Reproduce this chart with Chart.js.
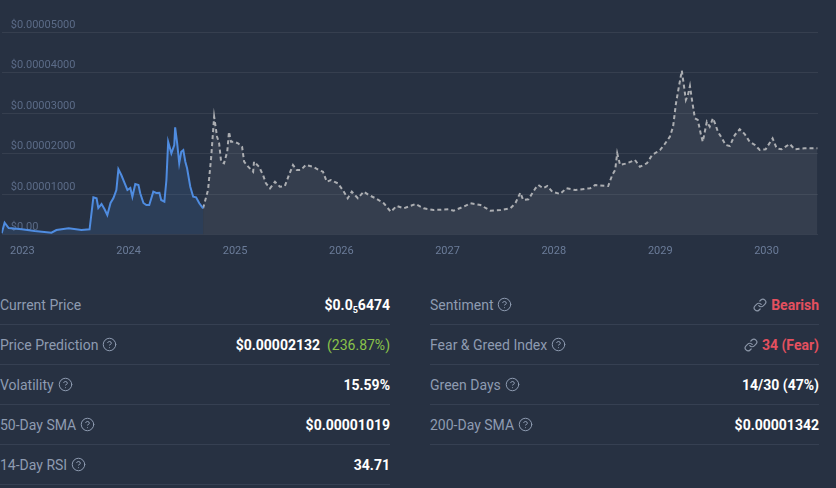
<!DOCTYPE html>
<html>
<head>
<meta charset="utf-8">
<script src="https://cdn.jsdelivr.net/npm/chart.js@4.4.1/dist/chart.umd.min.js"></script>
<style>
  body { margin: 0; background: #273142; font-family: Roboto, "Noto Sans", sans-serif; width: 836px; height: 488px; overflow: hidden; position: relative; }
  #chartBox { position: absolute; left: 0; top: 0; width: 836px; height: 262px; }
  .col { position: absolute; top: 285px; }
  .left { left: 0; width: 390px; }
  .right { left: 430px; width: 389px; }
  .row { height: 39px; border-bottom: 1px solid #364052; display: flex; align-items: center; justify-content: space-between; font-size: 14px; }
  .lbl { color: #8e9bb1; display: flex; align-items: center; }
  .lbl svg { margin-left: 4px; }
  .val { color: #fff; font-weight: bold; }
  .val svg { margin-right: 4px; vertical-align: -2px; }
  .up { color: #8bc34a; font-weight: normal; margin-left: 7px; }
  .down { color: #e4505f; }
  sub { font-size: 9px; vertical-align: -3px; line-height: 0; }
</style>
</head>
<body>
<div id="chartBox"><canvas id="myChart" width="836" height="262"></canvas></div>

<div class="col left">
  <div class="row"><span class="lbl">Current Price</span><span class="val">$0.0<sub>5</sub>6474</span></div>
  <div class="row"><span class="lbl">Price Prediction <svg width="15" height="15" viewBox="0 0 24 24" fill="none" stroke="#8e9bb1" stroke-width="1.6" stroke-linecap="round"><circle cx="12" cy="12" r="10"/><path d="M9.1 9a3 3 0 0 1 5.8 1c0 2-3 3-3 3"/><line x1="12" y1="17" x2="12" y2="17"/></svg></span><span class="val">$0.00002132<span class="up">(236.87%)</span></span></div>
  <div class="row"><span class="lbl">Volatility <svg width="15" height="15" viewBox="0 0 24 24" fill="none" stroke="#8e9bb1" stroke-width="1.6" stroke-linecap="round"><circle cx="12" cy="12" r="10"/><path d="M9.1 9a3 3 0 0 1 5.8 1c0 2-3 3-3 3"/><line x1="12" y1="17" x2="12" y2="17"/></svg></span><span class="val">15.59%</span></div>
  <div class="row"><span class="lbl">50-Day SMA <svg width="15" height="15" viewBox="0 0 24 24" fill="none" stroke="#8e9bb1" stroke-width="1.6" stroke-linecap="round"><circle cx="12" cy="12" r="10"/><path d="M9.1 9a3 3 0 0 1 5.8 1c0 2-3 3-3 3"/><line x1="12" y1="17" x2="12" y2="17"/></svg></span><span class="val">$0.00001019</span></div>
  <div class="row"><span class="lbl">14-Day RSI <svg width="15" height="15" viewBox="0 0 24 24" fill="none" stroke="#8e9bb1" stroke-width="1.6" stroke-linecap="round"><circle cx="12" cy="12" r="10"/><path d="M9.1 9a3 3 0 0 1 5.8 1c0 2-3 3-3 3"/><line x1="12" y1="17" x2="12" y2="17"/></svg></span><span class="val">34.71</span></div>
</div>

<div class="col right">
  <div class="row"><span class="lbl">Sentiment <svg width="15" height="15" viewBox="0 0 24 24" fill="none" stroke="#8e9bb1" stroke-width="1.6" stroke-linecap="round"><circle cx="12" cy="12" r="10"/><path d="M9.1 9a3 3 0 0 1 5.8 1c0 2-3 3-3 3"/><line x1="12" y1="17" x2="12" y2="17"/></svg></span><span class="val down"><svg width="14" height="14" viewBox="0 0 24 24" fill="none" stroke="#8b96a8" stroke-width="2" stroke-linecap="round" stroke-linejoin="round"><path d="M10 13a5 5 0 0 0 7.54.54l3-3a5 5 0 0 0-7.07-7.07l-1.72 1.71"/><path d="M14 11a5 5 0 0 0-7.54-.54l-3 3a5 5 0 0 0 7.07 7.07l1.71-1.71"/></svg>Bearish</span></div>
  <div class="row"><span class="lbl">Fear &amp; Greed Index <svg width="15" height="15" viewBox="0 0 24 24" fill="none" stroke="#8e9bb1" stroke-width="1.6" stroke-linecap="round"><circle cx="12" cy="12" r="10"/><path d="M9.1 9a3 3 0 0 1 5.8 1c0 2-3 3-3 3"/><line x1="12" y1="17" x2="12" y2="17"/></svg></span><span class="val down"><svg width="14" height="14" viewBox="0 0 24 24" fill="none" stroke="#8b96a8" stroke-width="2" stroke-linecap="round" stroke-linejoin="round"><path d="M10 13a5 5 0 0 0 7.54.54l3-3a5 5 0 0 0-7.07-7.07l-1.72 1.71"/><path d="M14 11a5 5 0 0 0-7.54-.54l-3 3a5 5 0 0 0 7.07 7.07l1.71-1.71"/></svg>34 (Fear)</span></div>
  <div class="row"><span class="lbl">Green Days <svg width="15" height="15" viewBox="0 0 24 24" fill="none" stroke="#8e9bb1" stroke-width="1.6" stroke-linecap="round"><circle cx="12" cy="12" r="10"/><path d="M9.1 9a3 3 0 0 1 5.8 1c0 2-3 3-3 3"/><line x1="12" y1="17" x2="12" y2="17"/></svg></span><span class="val">14/30 (47%)</span></div>
  <div class="row"><span class="lbl">200-Day SMA <svg width="15" height="15" viewBox="0 0 24 24" fill="none" stroke="#8e9bb1" stroke-width="1.6" stroke-linecap="round"><circle cx="12" cy="12" r="10"/><path d="M9.1 9a3 3 0 0 1 5.8 1c0 2-3 3-3 3"/><line x1="12" y1="17" x2="12" y2="17"/></svg></span><span class="val">$0.00001342</span></div>
</div>

<script>
// price history (blue) and prediction (grey dashed)
const histDates = [
  "2022-10-22", "2022-11-01", "2022-11-15", "2022-12-30", "2023-02-12", "2023-04-11", "2023-04-28",
  "2023-06-09", "2023-07-23", "2023-08-20", "2023-09-02", "2023-09-13", "2023-09-19", "2023-09-30",
  "2023-10-10", "2023-10-20", "2023-10-31", "2023-11-10", "2023-11-20", "2023-11-27", "2023-12-07",
  "2023-12-18", "2023-12-28", "2024-01-07", "2024-01-14", "2024-01-24", "2024-02-04", "2024-02-10",
  "2024-02-21", "2024-03-02", "2024-03-12", "2024-03-26", "2024-04-05", "2024-04-16", "2024-04-22",
  "2024-05-03", "2024-05-10", "2024-05-16", "2024-05-27", "2024-06-06", "2024-06-09", "2024-06-16",
  "2024-06-23", "2024-06-30", "2024-07-07", "2024-07-14", "2024-07-20", "2024-07-31", "2024-08-10",
  "2024-08-20", "2024-08-31", "2024-09-13"
];
const histPrices = [
  0.00000030, 0.00000291, 0.00000160, 0.00000128, 0.00000086, 0.00000044, 0.00000111,
  0.00000153, 0.00000111, 0.00000128, 0.00000919, 0.00000894, 0.00000654, 0.00000753,
  0.00000630, 0.00000481, 0.00000778, 0.00000901, 0.00001099, 0.00001610, 0.00001469,
  0.00001272, 0.00001099, 0.00001148, 0.00000933, 0.00001247, 0.00001222, 0.00001017,
  0.00000778, 0.00000728, 0.00000728, 0.00001057, 0.00001025, 0.00001032, 0.00000852,
  0.00000810, 0.00001346, 0.00002291, 0.00002005, 0.00002210, 0.00002647, 0.00002252,
  0.00001758, 0.00002044, 0.00002086, 0.00001798, 0.00001635, 0.00001180, 0.00000933,
  0.00000919, 0.00000770, 0.00000647
];
const predDates = [
  "2024-09-13", "2024-09-30", "2024-10-11", "2024-10-21", "2024-10-31", "2024-11-07", "2024-11-14",
  "2024-11-24", "2024-12-05", "2024-12-11", "2024-12-18", "2024-12-29", "2025-01-11", "2025-01-25",
  "2025-02-01", "2025-02-15", "2025-03-04", "2025-03-07", "2025-03-24", "2025-04-07", "2025-04-17",
  "2025-05-01", "2025-05-18", "2025-06-04", "2025-06-21", "2025-07-05", "2025-07-19", "2025-08-01",
  "2025-08-15", "2025-09-01", "2025-09-25", "2025-10-16", "2025-10-30", "2025-11-12", "2025-11-26",
  "2025-12-20", "2026-01-06", "2026-01-23", "2026-02-06", "2026-02-27", "2026-03-19", "2026-04-05",
  "2026-04-29", "2026-05-27", "2026-06-20", "2026-07-10", "2026-08-03", "2026-09-13", "2026-10-11",
  "2026-11-14", "2027-01-04", "2027-01-22", "2027-02-25", "2027-03-21", "2027-04-24", "2027-05-28",
  "2027-07-02", "2027-08-05", "2027-08-22", "2027-09-08", "2027-09-18", "2027-10-06", "2027-10-30",
  "2027-11-09", "2027-11-26", "2027-12-10", "2027-12-27", "2028-01-23", "2028-02-13", "2028-03-15",
  "2028-05-05", "2028-05-22", "2028-07-06", "2028-07-20", "2028-07-30", "2028-08-06", "2028-08-16",
  "2028-09-09", "2028-10-06", "2028-10-23", "2028-11-16", "2028-12-04", "2028-12-31", "2029-01-14",
  "2029-02-03", "2029-02-14", "2029-02-24", "2029-03-06", "2029-03-16", "2029-03-23", "2029-03-30",
  "2029-04-06", "2029-04-13", "2029-04-20", "2029-04-30", "2029-05-10", "2029-05-21", "2029-05-27",
  "2029-06-10", "2029-06-20", "2029-07-01", "2029-07-08", "2029-07-18", "2029-08-01", "2029-08-14",
  "2029-08-28", "2029-09-14", "2029-10-01", "2029-10-18", "2029-11-04", "2029-11-22", "2029-12-09",
  "2029-12-29", "2030-01-22", "2030-02-05", "2030-02-22", "2030-03-22", "2030-04-08", "2030-05-12",
  "2030-06-25"
];
const predPrices = [
  0.00000647, 0.00001099, 0.00001921, 0.00002909, 0.00002415, 0.00002259, 0.00001798,
  0.00001758, 0.00002044, 0.00002538, 0.00002291, 0.00002291, 0.00002252, 0.00002168,
  0.00001798, 0.00001674, 0.00001551, 0.00001798, 0.00001674, 0.00001469, 0.00001264,
  0.00001141, 0.00001304, 0.00001180, 0.00001198, 0.00001469, 0.00001716, 0.00001593,
  0.00001593, 0.00001716, 0.00001674, 0.00001593, 0.00001551, 0.00001304, 0.00001346,
  0.00001264, 0.00001099, 0.00000894, 0.00001057, 0.00000894, 0.00001057, 0.00000975,
  0.00000894, 0.00000770, 0.00000563, 0.00000704, 0.00000647, 0.00000753, 0.00000647,
  0.00000605, 0.00000622, 0.00000588, 0.00000686, 0.00000770, 0.00000728, 0.00000588,
  0.00000605, 0.00000647, 0.00000770, 0.00001032, 0.00000852, 0.00000869, 0.00001141,
  0.00001222, 0.00001141, 0.00001198, 0.00001057, 0.00001000, 0.00001141, 0.00001099,
  0.00001141, 0.00001222, 0.00001198, 0.00001469, 0.00001593, 0.00002005, 0.00001716,
  0.00001758, 0.00001840, 0.00001674, 0.00001758, 0.00001963, 0.00002086, 0.00002210,
  0.00002415, 0.00002662, 0.00003240, 0.00003649, 0.00004044, 0.00003691, 0.00003321,
  0.00003444, 0.00003667, 0.00003321, 0.00002869, 0.00002827, 0.00002457, 0.00002291,
  0.00002785, 0.00002662, 0.00002869, 0.00002746, 0.00002538, 0.00002375, 0.00002210,
  0.00002185, 0.00002457, 0.00002598, 0.00002481, 0.00002291, 0.00002210, 0.00002086,
  0.00002104, 0.00002375, 0.00002128, 0.00002104, 0.00002235, 0.00002104, 0.00002128,
  0.00002132
];
const yearTicks = [2023, 2024, 2025, 2026, 2027, 2028, 2029, 2030];
const priceTicks = [0, 0.00001, 0.00002, 0.00003, 0.00004, 0.00005];

const toPoints = (dates, prices) => dates.map((d, i) => ({ x: Date.parse(d), y: prices[i] }));

const ctx = document.getElementById("myChart").getContext("2d");
const myChart = new Chart(ctx, {
  type: "line",
  data: {
    datasets: [
      {
        data: toPoints(histDates, histPrices),
        borderColor: "#4f8ce0",
        backgroundColor: "rgba(79, 140, 224, 0.14)",
        borderWidth: 2,
        fill: "origin",
        pointRadius: 0,
        tension: 0,
      },
      {
        data: toPoints(predDates, predPrices),
        borderColor: "#acaeb2",
        backgroundColor: "rgba(255, 255, 255, 0.065)",
        borderWidth: 2,
        borderDash: [4, 3],
        fill: "origin",
        pointRadius: 0,
        tension: 0,
      },
    ],
  },
  options: {
    responsive: false,
    animation: false,
    layout: { padding: { top: 32, right: 18, bottom: 3.5, left: 0 } },
    plugins: { legend: { display: false }, tooltip: { enabled: false } },
    scales: {
      x: {
        type: "linear",
        min: Date.parse("2022-10-22"),
        max: Date.parse("2030-06-27"),
        grid: { display: false, drawTicks: false },
        border: { display: false },
        afterBuildTicks: (scale) => {
          scale.ticks = yearTicks.map((y) => ({ value: Date.UTC(y, 0, 1) }));
        },
        afterFit: (scale) => {
          scale.height = 24;
        },
        ticks: {
          color: "#6b7c99",
          font: { family: "Roboto", size: 11 },
          padding: 10,
          maxRotation: 0,
          autoSkip: false,
          callback: (v) => new Date(v).getUTCFullYear(),
        },
      },
      y: {
        min: 0,
        max: 0.00005,
        afterBuildTicks: (scale) => {
          scale.ticks = priceTicks.map((v) => ({ value: v }));
        },
        afterFit: (scale) => {
          scale.width = 0;
        },
        grid: { color: "rgba(255, 255, 255, 0.07)", drawTicks: false },
        border: { display: false },
        ticks: {
          mirror: true,
          padding: 9,
          labelOffset: -7,
          color: "#5b6b87",
          font: { family: "Roboto", size: 11 },
          callback: (v) => (v === 0 ? "$0.00" : "$" + v.toFixed(8)),
        },
      },
    },
  },
});
</script>
</body>
</html>
